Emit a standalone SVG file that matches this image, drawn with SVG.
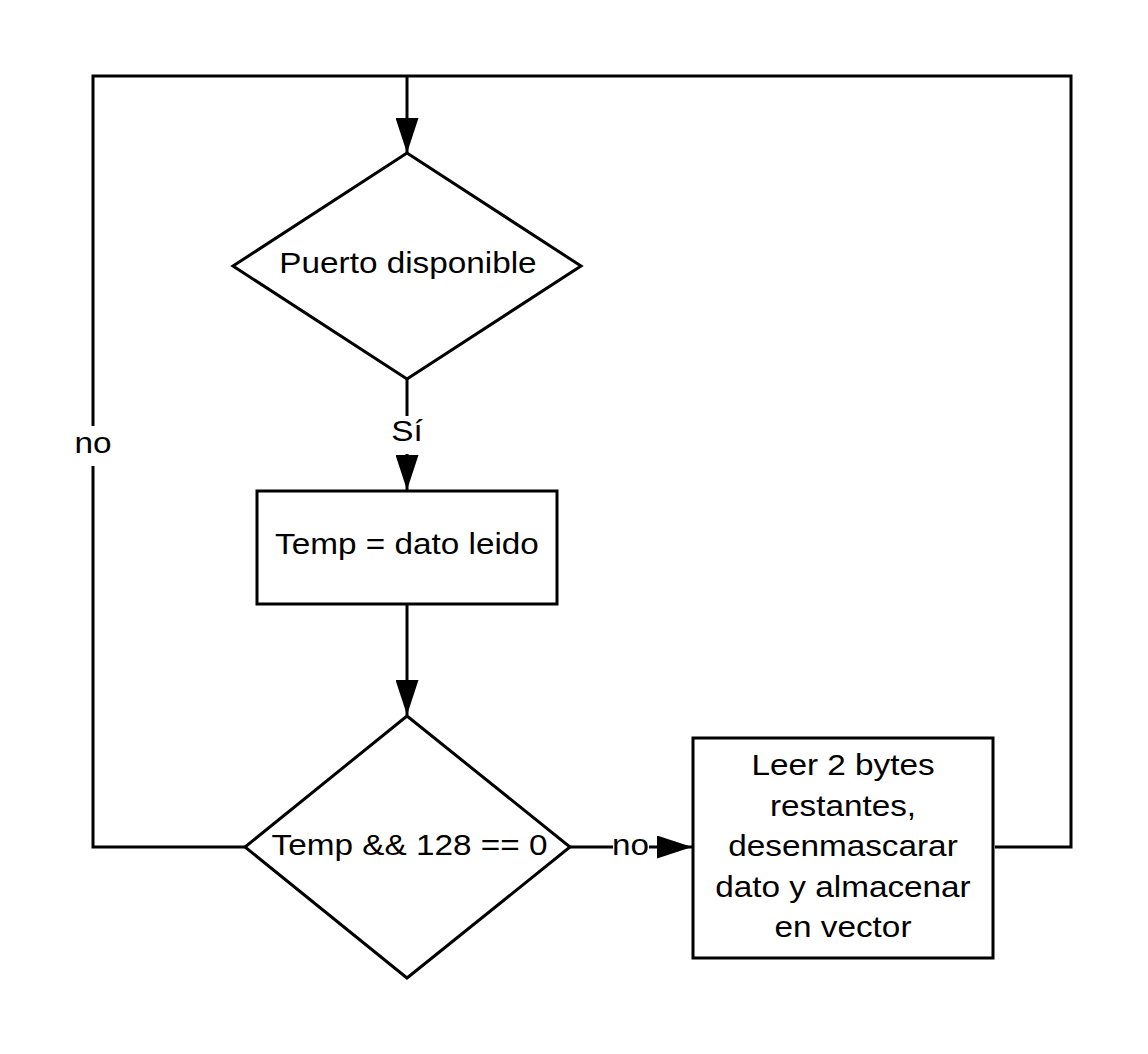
<svg xmlns="http://www.w3.org/2000/svg" width="1148" height="1054" viewBox="0 0 1148 1054">
<style>
.shape{fill:#ffffff;stroke:#000000;stroke-width:3}
.conn{fill:none;stroke:#000000;stroke-width:3}
.t{font-family:"Liberation Sans",Arial,sans-serif;font-size:30px;fill:#000000;text-anchor:middle}
.lbl{fill:#ffffff;stroke:none}
</style>
<defs>
<marker id="arrow" viewBox="0 0 35 23" refX="35" refY="11.5" markerWidth="35" markerHeight="23" markerUnits="userSpaceOnUse" orient="auto">
<path d="M0,0 L35,11.5 L0,23 Z" fill="#000000"/>
</marker>
</defs>
<rect x="0" y="0" width="1148" height="1054" fill="#ffffff"/>
<g id="connectors">
<path class="conn" d="M245,847 L93,847 L93,76 L1071,76 L1071,847 L995,847"/>
<path class="conn" d="M407,76 L407,153" marker-end="url(#arrow)"/>
<path class="conn" d="M407,379 L407,490" marker-end="url(#arrow)"/>
<path class="conn" d="M407,604 L407,715" marker-end="url(#arrow)"/>
<path class="conn" d="M570,847 L692,847" marker-end="url(#arrow)"/>
<rect class="lbl" x="74" y="426" width="38" height="40"/>
<text class="t" transform="translate(93 453) scale(1.11 1)">no</text>
<rect class="lbl" x="391" y="416" width="32" height="38"/>
<text class="t" transform="translate(407 441) scale(1.11 1)">Sí</text>
<rect class="lbl" x="613" y="830" width="36" height="34"/>
<text class="t" transform="translate(630.5 855) scale(1.11 1)">no</text>
</g>
<g id="node-puerto">
<polygon class="shape" points="407,153 581,266 407,379 233,266"/>
<text class="t" transform="translate(408 273) scale(1.11 1)">Puerto disponible</text>
</g>
<g id="node-temp">
<rect class="shape" x="257" y="491" width="300" height="113"/>
<text class="t" transform="translate(407 554) scale(1.11 1)">Temp = dato leido</text>
</g>
<g id="node-cond">
<polygon class="shape" points="407,716 570,847 407,978 245,847"/>
<text class="t" transform="translate(409.5 855) scale(1.11 1)">Temp &amp;&amp; 128 == 0</text>
</g>
<g id="node-leer">
<rect class="shape" x="693" y="738" width="300" height="220"/>
<text class="t" transform="translate(843 775) scale(1.11 1)">Leer 2 bytes</text>
<text class="t" transform="translate(843 815.5) scale(1.11 1)">restantes,</text>
<text class="t" transform="translate(843 856) scale(1.11 1)">desenmascarar</text>
<text class="t" transform="translate(843 896.5) scale(1.11 1)">dato y almacenar</text>
<text class="t" transform="translate(843 937) scale(1.11 1)">en vector</text>
</g>
</svg>
